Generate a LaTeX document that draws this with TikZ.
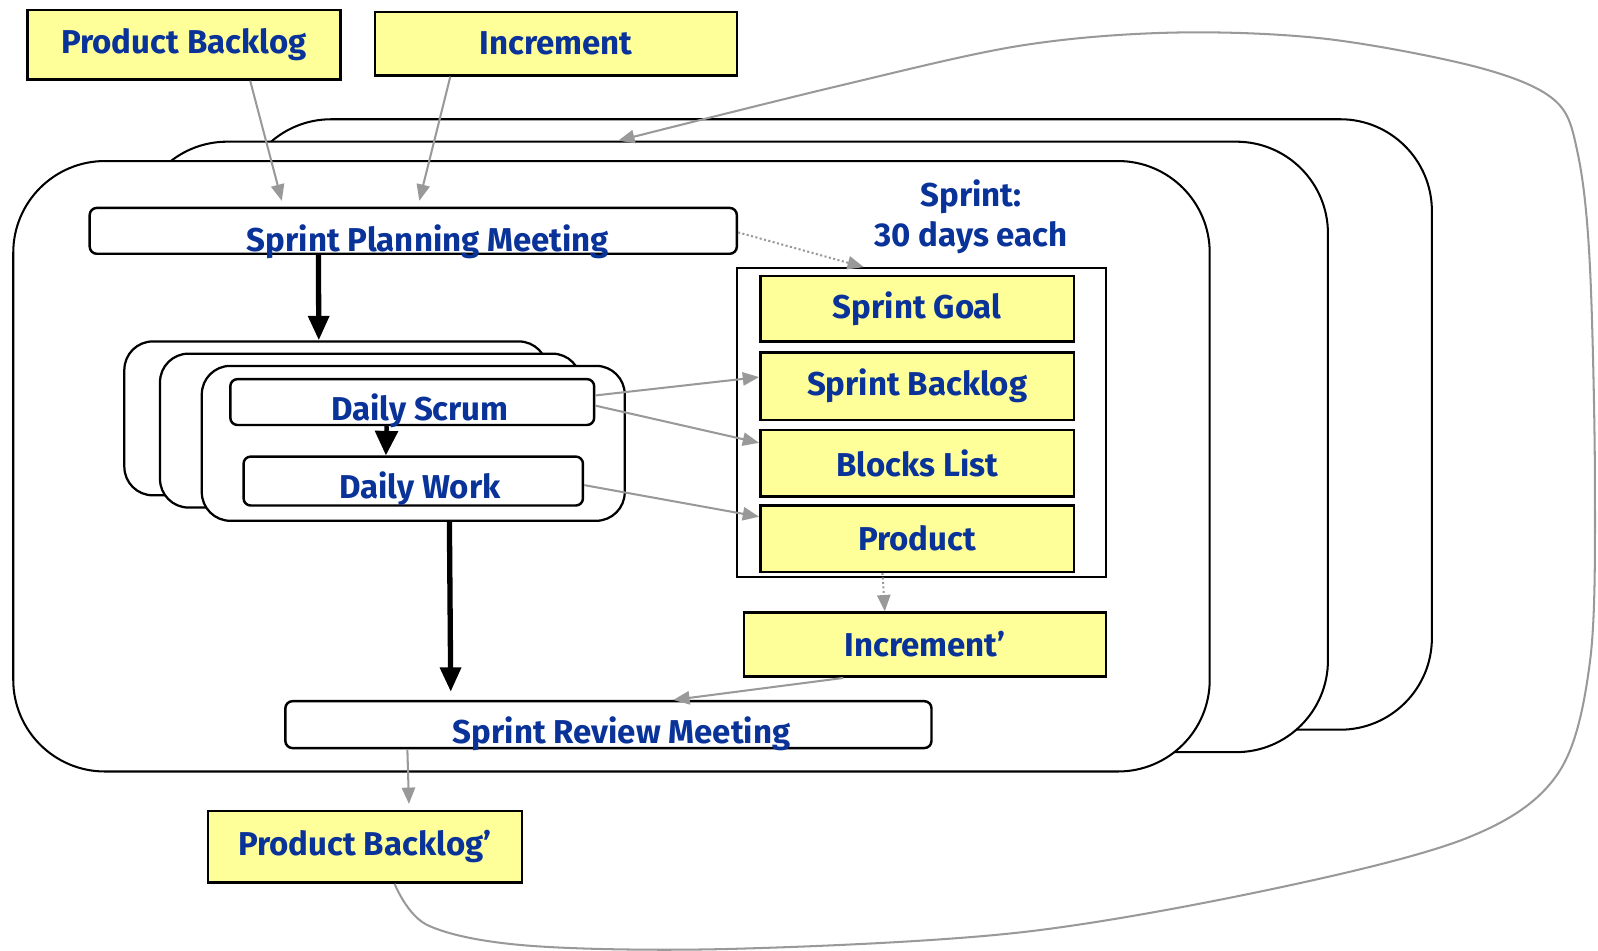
\documentclass[tikz,border=0pt]{standalone}
\usepackage{fontspec}
\setmainfont{Fira Sans}
\usetikzlibrary{arrows.meta,calc}
\definecolor{txtblue}{HTML}{0A3399}
\definecolor{noteyellow}{HTML}{FFFF99}
\definecolor{flowgray}{HTML}{999999}
\newcommand{\diagfont}{\fontsize{16.2}{19.5}\selectfont\bfseries}
\tikzset{
  x=0.5pt, y=-0.5pt,
  lbl/.style={text=txtblue, font=\diagfont, inner sep=0pt},
  ybox/.style={draw=black, line width=1.2pt, fill=noteyellow, text=txtblue,
    font=\diagfont, inner sep=0pt, align=center},
  meetbox/.style={draw=black, line width=1.2pt, fill=white, rounded corners=3.5pt, inner sep=0pt},
  sprintbox/.style={draw=black, line width=1pt, fill=white, rounded corners=45pt, inner sep=0pt},
  dailybox/.style={draw=black, line width=1.1pt, fill=white, rounded corners=14pt, inner sep=0pt},
  grayarrow/.style={draw=flowgray, line width=1pt, -{Triangle[length=8pt,width=6.5pt]}},
  dotarrow/.style={grayarrow, dash pattern=on 1pt off 1.2pt},
  bigarrow/.style={draw=black, line width=2.6pt, -{Triangle[length=12pt,width=10pt]}},
  midarrow/.style={draw=black, line width=2.2pt, -{Triangle[length=12pt,width=11pt]}},
}
\begin{document}
\begin{tikzpicture}
\useasboundingbox (0,0) rectangle (1568,933);

% stacked sprints
\node[sprintbox, minimum width=585pt, minimum height=299.5pt] (spr3) at (820,416.5) {};
\node[sprintbox, minimum width=585pt, minimum height=299.5pt] (spr2) at (718,438.5) {};
\node[sprintbox, minimum width=587pt, minimum height=299.5pt] (spr1) at (600,457.5) {};

% inputs
\node[ybox, minimum width=153.5pt, minimum height=34pt] (pb) at (180.5,44) {Product Backlog};
\node[ybox, minimum width=177.5pt, minimum height=31pt] (inc) at (545.5,43) {Increment};

% planning meeting
\node[meetbox, minimum width=317.5pt, minimum height=22.5pt] (spm) at (405.5,226.5) {};
\node[lbl] (spmtxt) at (420,237) {Sprint Planning Meeting};

% sprint label and artefacts
\node[lbl, align=center, font=\fontsize{16.2}{19.5}\selectfont\bfseries] (sprlbl) at (953,213) {Sprint:\\30 days each};
\node[draw=black, line width=0.9pt, fill=white, minimum width=181pt, minimum height=151.5pt, inner sep=0pt] (art) at (904,414.5) {};
\node[ybox, minimum width=154pt, minimum height=32pt] (sg) at (900,303) {Sprint Goal};
\node[ybox, minimum width=154pt, minimum height=33pt] (sb) at (900,379) {Sprint Backlog};
\node[ybox, minimum width=154pt, minimum height=32.5pt] (bl) at (900,454.5) {Blocks List};
\node[ybox, minimum width=154pt, minimum height=32.5pt] (pr) at (900,528.5) {Product};
\node[ybox, minimum width=177.5pt, minimum height=31.5pt] (inc2) at (907.5,632.5) {Increment’};

% daily cycle stack
\node[dailybox, minimum width=207.5pt, minimum height=75.5pt] (day3) at (329.5,410.5) {};
\node[dailybox, minimum width=206.5pt, minimum height=75.5pt] (day2) at (363.5,422.5) {};
\node[dailybox, minimum width=207.5pt, minimum height=76pt] (day1) at (405.5,435) {};
\node[meetbox, minimum width=178.5pt, minimum height=22.5pt] (ds) at (404.5,394.5) {};
\node[lbl] (dstxt) at (412,403) {Daily Scrum};
\node[meetbox, minimum width=166.5pt, minimum height=24pt] (dw) at (405.5,472) {};
\node[lbl] (dwtxt) at (412,480) {Daily Work};

% review and output
\node[meetbox, minimum width=317pt, minimum height=23pt] (srm) at (597,711) {};
\node[lbl] (srmtxt) at (610,720) {Sprint Review Meeting};
\node[ybox, minimum width=154pt, minimum height=35pt] (pb2) at (358,831) {Product Backlog’};

% flows into planning
\draw[grayarrow, shorten >=3pt] ($(pb.south west)!0.71!(pb.south east)$) -- ($(spm.north west)!0.30!(spm.north east)$);
\draw[grayarrow, shorten >=3pt] ($(inc.south west)!0.21!(inc.south east)$) -- ($(spm.north west)!0.507!(spm.north east)$);
\draw[dotarrow] ([yshift=-0.75pt]spm.east) -- ($(art.north west)!0.345!(art.north east)$);

% main control flow
\draw[bigarrow] ($(spm.south west)!0.354!(spm.south east)$) -- ($(day3.north west)!0.46!(day3.north east)$);
\draw[midarrow] ($(ds.south west)!0.43!(ds.south east)$) -- ($(dw.north west)!0.42!(dw.north east)$);
\draw[bigarrow, shorten >=4pt] ($(day1.south west)!0.585!(day1.south east)$) -- ($(srm.north west)!0.257!(srm.north east)$);

% daily outputs
\draw[grayarrow] ([yshift=3.25pt]ds.east) -- ([yshift=4.5pt]sb.west);
\draw[grayarrow] ([yshift=-1.75pt]ds.east) -- ([yshift=10pt]bl.west);
\draw[grayarrow] ([yshift=-2pt]dw.east) -- ([yshift=10.75pt]pr.west);

% increment and review
\draw[dotarrow] ($(pr.south west)!0.39!(pr.south east)$) -- ($(inc2.north west)!0.39!(inc2.north east)$);
\draw[grayarrow] ($(inc2.south west)!0.276!(inc2.south east)$) -- ($(srm.north west)!0.60!(srm.north east)$);
\draw[grayarrow, shorten >=3pt] ($(srm.south west)!0.19!(srm.south east)$) -- ($(pb2.north west)!0.64!(pb2.north east)$);

% feedback loop to the next sprint
\coordinate (loopstart) at ($(pb2.south west)!0.594!(pb2.south east)$);
\coordinate (loopend) at ($(spr2.north west)!0.405!(spr2.north east)$);
\draw[grayarrow] plot[smooth, tension=0.55] coordinates {
  (loopstart) (420,908) (520,928) (720,931) (1000,915) (1250,872) (1440,822)
  (1528,760) (1560,650) (1565,480) (1560,260) (1548,150) (1525,98) (1450,66)
  (1300,38) (1150,32) (1000,45) (820,85) (loopend)};
\end{tikzpicture}
\end{document}
